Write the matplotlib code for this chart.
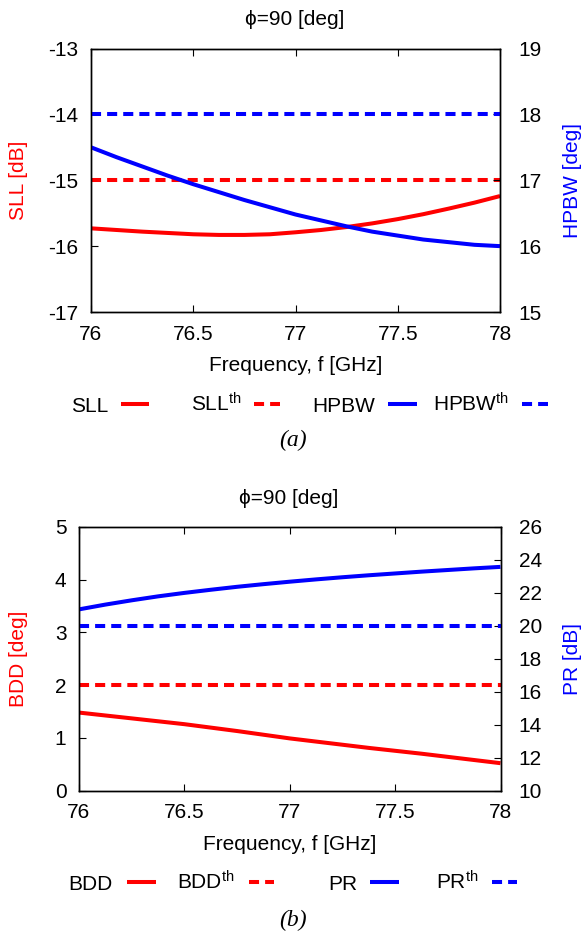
import numpy as np
import matplotlib
matplotlib.use('Agg')
import matplotlib.pyplot as plt
from matplotlib.lines import Line2D

plt.rcParams['font.family'] = ['Liberation Sans', 'DejaVu Sans']
plt.rcParams['mathtext.fontset'] = 'custom'
plt.rcParams['mathtext.rm'] = 'Liberation Sans'
plt.rcParams['mathtext.it'] = 'Liberation Sans:italic'

# frequency grid (GHz)
freq = [76, 76.125, 76.25, 76.375, 76.5, 76.625, 76.75, 76.875, 77,
        77.125, 77.25, 77.375, 77.5, 77.625, 77.75, 77.875, 78]

# panel (a)
sll = [-15.73, -15.755, -15.78, -15.80, -15.82, -15.83, -15.83, -15.82, -15.79,
       -15.755, -15.71, -15.655, -15.59, -15.515, -15.43, -15.34, -15.24]
hpbw = [17.5, 17.35, 17.21, 17.07, 16.94, 16.82, 16.70, 16.59, 16.48,
        16.39, 16.30, 16.22, 16.16, 16.10, 16.06, 16.02, 16.0]
sll_th = -15
hpbw_th = 18

# panel (b)
bdd = [1.48, 1.425, 1.37, 1.315, 1.26, 1.195, 1.13, 1.06, 0.99,
       0.93, 0.87, 0.81, 0.755, 0.70, 0.64, 0.58, 0.52]
pr = [21.0, 21.29, 21.55, 21.79, 22.0, 22.19, 22.37, 22.53, 22.68,
      22.82, 22.95, 23.07, 23.18, 23.29, 23.39, 23.49, 23.58]
bdd_th = 2
pr_th = 20

xticks = [76, 76.5, 77, 77.5, 78]
xticklabels = ['76', '76.5', '77', '77.5', '78']

W, H = 585, 932
RED = '#ff0000'
BLUE = '#0000ff'
LW = 2.9
DASH = (2.5, 1.5)
FS = 15

fig = plt.figure(figsize=(W / 100, H / 100), dpi=100)


def px(x, y):
    return x / W, 1 - y / H


def make_panel(left, right, top, bottom, yl, yr, ylt, yrt):
    ax = fig.add_axes([left / W, 1 - bottom / H, (right - left) / W, (bottom - top) / H])
    ax.set_xlim(76, 78)
    ax.set_ylim(*yl)
    ax.set_xticks(xticks)
    ax.set_xticklabels(xticklabels)
    ax.set_yticks(ylt)
    ax.set_yticklabels([f'{v:g}' for v in ylt])
    ax.tick_params(axis='x', direction='in', top=True, length=5, width=0.8, labelsize=FS, pad=9)
    ax.tick_params(axis='y', direction='in', length=5, width=0.8, labelsize=FS, pad=9)
    ax2 = ax.twinx()
    ax2.set_ylim(*yr)
    ax2.set_yticks(yrt)
    ax2.set_yticklabels([f'{v:g}' for v in yrt])
    ax2.tick_params(axis='y', direction='in', length=5, width=0.8, labelsize=FS, pad=13)
    for a in (ax, ax2):
        for s in a.spines.values():
            s.set_linewidth(1.0)
    ax.set_xlabel('Frequency, f [GHz]', fontsize=FS, labelpad=9)
    return ax, ax2


# ---- panel (a)
ax, ax2 = make_panel(91, 500, 48.5, 312, (-17, -13), (15, 19),
                     [-17, -16, -15, -14, -13], [15, 16, 17, 18, 19])
ax.plot(freq, sll, color=RED, lw=LW, solid_capstyle='butt')
ax.axhline(sll_th, color=RED, lw=LW, dashes=DASH)
ax2.plot(freq, hpbw, color=BLUE, lw=LW, solid_capstyle='butt')
ax2.axhline(hpbw_th, color=BLUE, lw=LW, dashes=DASH)

fig.text(*px(295, 25), 'ϕ=90 [deg]', fontsize=FS, ha='center', va='baseline')
fig.text(*px(19, 180), 'SLL [dB]', fontsize=FS, color=RED, rotation=90, ha='center', va='center')
fig.text(*px(573, 180), 'HPBW [deg]', fontsize=FS, color=BLUE, rotation=90, ha='center', va='center')
fig.text(*px(293, 440), '(a)', fontsize=17, family='Liberation Serif', style='italic',
         ha='center', va='center')

# ---- panel (b)
bx, bx2 = make_panel(79, 500.5, 527, 790.6, (0, 5), (10, 26),
                     [0, 1, 2, 3, 4, 5], [10, 12, 14, 16, 18, 20, 22, 24, 26])
bx.plot(freq, bdd, color=RED, lw=LW, solid_capstyle='butt')
bx.axhline(bdd_th, color=RED, lw=LW, dashes=DASH)
bx2.plot(freq, pr, color=BLUE, lw=LW, solid_capstyle='butt')
bx2.axhline(pr_th, color=BLUE, lw=LW, dashes=DASH)

fig.text(*px(289, 504), 'ϕ=90 [deg]', fontsize=FS, ha='center', va='baseline')
fig.text(*px(19, 659), 'BDD [deg]', fontsize=FS, color=RED, rotation=90, ha='center', va='center')
fig.text(*px(573, 659), 'PR [dB]', fontsize=FS, color=BLUE, rotation=90, ha='center', va='center')
fig.text(*px(293, 920), '(b)', fontsize=17, family='Liberation Serif', style='italic',
         ha='center', va='center')


# ---- legends (gnuplot style: label then sample)
def legend_row(y, entries):
    for label, text_end, x1, x2, color, dashed in entries:
        fig.text(*px(text_end, y + 7.5), label, fontsize=FS, ha='right', va='baseline')
        ln = Line2D([x1 / W, x2 / W], [1 - y / H, 1 - y / H], transform=fig.transFigure,
                    color=color, lw=LW, solid_capstyle='butt')
        if dashed:
            ln.set_dashes(DASH)
        fig.add_artist(ln)


legend_row(404, [
    ('SLL', 108, 121, 149, RED, False),
    (r'SLL$^{\rm th}$', 242, 254, 280, RED, True),
    ('HPBW', 375, 388, 417, BLUE, False),
    (r'HPBW$^{\rm th}$', 509, 522, 548, BLUE, True),
])
legend_row(882, [
    ('BDD', 113, 127, 156, RED, False),
    (r'BDD$^{\rm th}$', 235, 249, 274, RED, True),
    ('PR', 357, 370, 399, BLUE, False),
    (r'PR$^{\rm th}$', 478, 492, 517, BLUE, True),
])

fig.savefig('out.png', dpi=100)
